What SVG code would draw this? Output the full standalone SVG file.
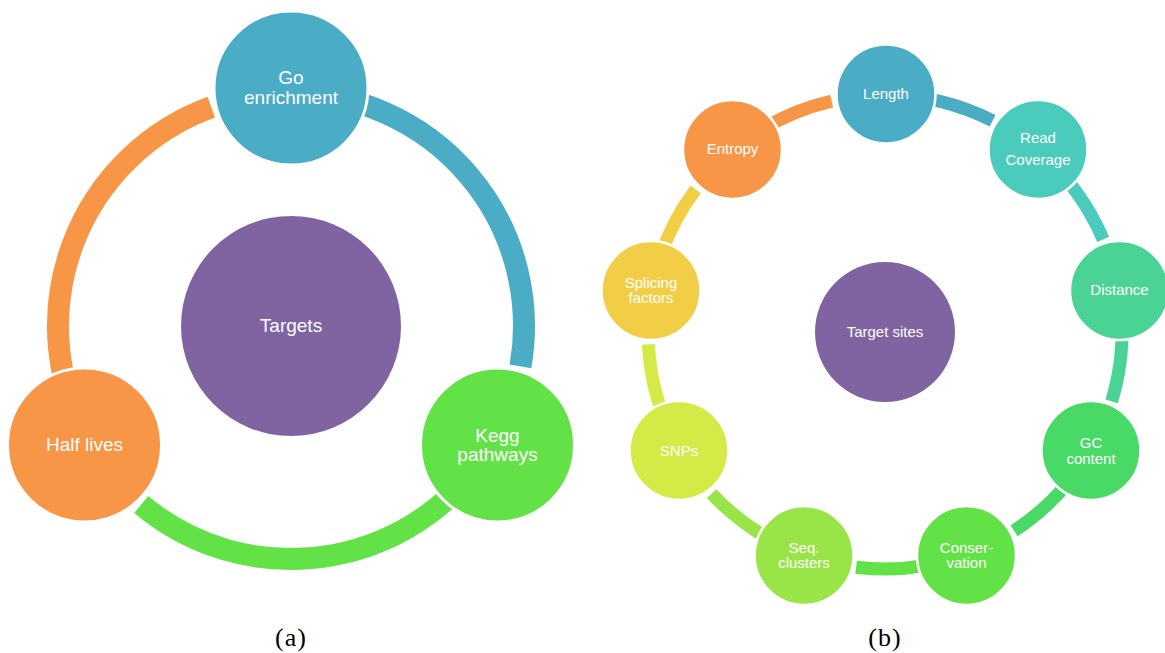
<svg xmlns="http://www.w3.org/2000/svg" width="1165" height="653" viewBox="0 0 1165 653">
<style>
.arcL{fill:none;stroke-width:22;stroke-linecap:butt}
.arcR{fill:none;stroke-width:13;stroke-linecap:butt}
.nodeL{stroke:#fff;stroke-width:3}
.nodeR{stroke:#fff;stroke-width:2.5}
.tL{font-family:"Liberation Sans",Arial,sans-serif;font-size:19px;fill:#fff;text-anchor:middle}
.tR{font-family:"Liberation Sans",Arial,sans-serif;font-size:15px;fill:#fff;text-anchor:middle}
.cap{font-family:"Liberation Serif","Times New Roman",serif;font-size:26px;fill:#000;text-anchor:middle;letter-spacing:1px}
</style>
<rect width="1165" height="653" fill="#fff"/>
<g id="connectors">
<path class="arcL" stroke="#4BACC6" d="M291,93 A233,233 0 0 1 520.46,366.46"/>
<path class="arcL" stroke="#62E246" d="M492.78,442.5 A233,233 0 0 1 141.23,504.49"/>
<path class="arcL" stroke="#F79646" d="M89.22,442.5 A233,233 0 0 1 211.31,107.05"/>
<path class="arcR" stroke="#4BACC6" d="M885,95 A237,237 0 0 1 992.6,120.83"/>
<path class="arcR" stroke="#4BCBBB" d="M1037.34,150.46 A237,237 0 0 1 1103.16,239.4"/>
<path class="arcR" stroke="#4AD394" d="M1118.4,290.85 A237,237 0 0 1 1111.64,401.3"/>
<path class="arcR" stroke="#48D966" d="M1090.25,450.5 A237,237 0 0 1 1014.07,530.77"/>
<path class="arcR" stroke="#62E246" d="M966.06,554.71 A237,237 0 0 1 856.11,567.22"/>
<path class="arcR" stroke="#99E548" d="M803.94,554.71 A237,237 0 0 1 711.66,493.63"/>
<path class="arcR" stroke="#D3EA47" d="M679.75,450.5 A237,237 0 0 1 648.33,344.4"/>
<path class="arcR" stroke="#F2CE46" d="M651.6,290.85 A237,237 0 0 1 695.73,189.37"/>
<path class="arcR" stroke="#F79646" d="M732.66,150.46 A237,237 0 0 1 831.68,101.07"/>
</g>
<g id="targets"><circle cx="291" cy="326" r="110" fill="#8064A2"/><text class="tL" x="291" y="332">Targets</text></g>
<g id="go"><circle class="nodeL" cx="291" cy="88" r="77" fill="#4BACC6"/><text class="tL" x="291" y="84">Go</text><text class="tL" x="291" y="104">enrichment</text></g>
<g id="kegg"><circle class="nodeL" cx="497.5" cy="445" r="77" fill="#62E246"/><text class="tL" x="497.5" y="442">Kegg</text><text class="tL" x="497.5" y="461">pathways</text></g>
<g id="halflives"><circle class="nodeL" cx="84.5" cy="445" r="77" fill="#F79646"/><text class="tL" x="84.5" y="451">Half lives</text></g>
<g id="targetsites"><circle cx="885" cy="332" r="70" fill="#8064A2"/><text class="tR" x="885" y="337">Target sites</text></g>
<g id="length"><circle class="nodeR" cx="886" cy="94" r="49.5" fill="#4BACC6"/><text class="tR" x="886" y="99">Length</text></g>
<g id="readcoverage"><circle class="nodeR" cx="1038" cy="149.5" r="49.5" fill="#4BCBBB"/><text class="tR" x="1038" y="143">Read</text><text class="tR" x="1038" y="165">Coverage</text></g>
<g id="distance"><circle class="nodeR" cx="1119.5" cy="290.5" r="49.5" fill="#4AD394"/><text class="tR" x="1119.5" y="295">Distance</text></g>
<g id="gccontent"><circle class="nodeR" cx="1091" cy="450.5" r="49.5" fill="#48D966"/><text class="tR" x="1091" y="448">GC</text><text class="tR" x="1091" y="464">content</text></g>
<g id="conservation"><circle class="nodeR" cx="966.5" cy="555.5" r="49.5" fill="#62E246"/><text class="tR" x="966.5" y="553">Conser-</text><text class="tR" x="966.5" y="568">vation</text></g>
<g id="seqclusters"><circle class="nodeR" cx="804" cy="555.5" r="49.5" fill="#99E548"/><text class="tR" x="804" y="553">Seq.</text><text class="tR" x="804" y="568">clusters</text></g>
<g id="snps"><circle class="nodeR" cx="679" cy="450.5" r="49.5" fill="#D3EA47"/><text class="tR" x="679" y="456">SNPs</text></g>
<g id="splicing"><circle class="nodeR" cx="651" cy="290.5" r="49.5" fill="#F2CE46"/><text class="tR" x="651" y="288">Splicing</text><text class="tR" x="651" y="303">factors</text></g>
<g id="entropy"><circle class="nodeR" cx="732.5" cy="149.5" r="49.5" fill="#F79646"/><text class="tR" x="732.5" y="154">Entropy</text></g>
<text class="cap" x="291" y="646">(a)</text>
<text class="cap" x="885" y="646">(b)</text>
</svg>
